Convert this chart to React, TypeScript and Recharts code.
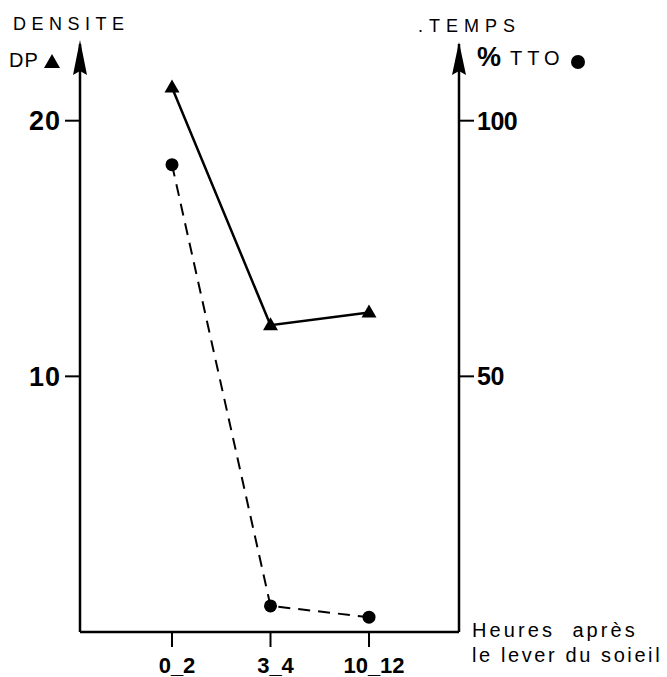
import React from "react";
import { LineChart, Line, XAxis, YAxis } from "recharts";

const categories = ["0_2", "3_4", "10_12"];
const densite = [21.3, 12.0, 12.5];
const tempsTTO = [91.4, 5.1, 2.9];
const leftTicks = [10, 20];
const rightTicks = [50, 100];

const data = categories.map((c, i) => ({ cat: c, dp: densite[i], tto: tempsTTO[i] }));

const FONT = "'Liberation Sans', Arial, Helvetica, sans-serif";

const Triangle = (props: any) => {
  const { cx, cy, index } = props;
  if (cx == null || cy == null) return null;
  return (
    <polygon
      key={`tri-${index}`}
      points={`${cx},${cy - 8} ${cx - 7.5},${cy + 5} ${cx + 7.5},${cy + 5}`}
      fill="#000"
    />
  );
};

const Circle = (props: any) => {
  const { cx, cy, index } = props;
  if (cx == null || cy == null) return null;
  return <circle key={`cir-${index}`} cx={cx} cy={cy} r={6.5} fill="#000" />;
};

const LeftTick = (props: any) => {
  const { x, y, payload } = props;
  return (
    <text x={x} y={y} dy="0.36em" textAnchor="end" fontFamily={FONT} fontWeight="bold" fontSize={27} letterSpacing={1} fill="#000">
      {payload.value}
    </text>
  );
};

const RightTick = (props: any) => {
  const { x, y, payload } = props;
  return (
    <text x={x} y={y} dy="0.36em" textAnchor="start" fontFamily={FONT} fontWeight="bold" fontSize={25} fill="#000" letterSpacing={-0.5}>
      {payload.value}
    </text>
  );
};

const BottomTick = (props: any) => {
  const { x, payload } = props;
  return (
    <text x={x + 5} y={673} textAnchor="middle" fontFamily={FONT} fontWeight="bold" fontSize={22} fill="#000">
      {payload.value}
    </text>
  );
};

const LeftLabel = (props: any) => {
  const vb = props.viewBox || {};
  const ax = (vb.x ?? 0) + (vb.width ?? 80);
  const top = vb.y ?? 44;
  return (
    <g>
      <polygon points={`${ax},${top - 4} ${ax - 7},${top + 31} ${ax},${top + 27} ${ax + 7},${top + 31}`} fill="#000" />
      <text x={13} y={30} fontFamily={FONT} fontSize={18} letterSpacing={5.5} fill="#000">DENSITE</text>
      <text x={9} y={67} fontFamily={FONT} fontSize={20} letterSpacing={1} fill="#000">DP</text>
      <polygon points="52,54 44,68 60,68" fill="#000" />
    </g>
  );
};

const RightLabel = (props: any) => {
  const vb = props.viewBox || {};
  const ax = vb.x ?? 459;
  const top = vb.y ?? 44;
  return (
    <g>
      <polygon points={`${ax},${top - 2} ${ax - 7},${top + 31} ${ax},${top + 27} ${ax + 7},${top + 31}`} fill="#000" />
      <text x={418} y={32} fontFamily={FONT} fontSize={18} letterSpacing={6} fill="#000">.TEMPS</text>
      <text x={477} y={66} fontFamily={FONT} fontSize={27} fontWeight="bold" fill="#000">%</text>
      <text x={510} y={65} fontFamily={FONT} fontSize={20} letterSpacing={5} fill="#000">TTO</text>
      <circle cx={578} cy={62} r={7} fill="#000" />
    </g>
  );
};

const BottomLabel = () => (
  <g>
    <text x={472} y={637} fontFamily={FONT} fontSize={20} letterSpacing={3.1} fill="#000" style={{ whiteSpace: "pre" }}>
      Heures  après
    </text>
    <text x={472} y={662} fontFamily={FONT} fontSize={20} letterSpacing={2.6} fill="#000">
      le lever du soieil
    </text>
  </g>
);

export default function App() {
  return (
    <div style={{ position: "absolute", left: 0, top: 0, width: 667, height: 677, background: "#fff" }}>
      <LineChart width={667} height={677} data={data} margin={{ top: 44, right: 0, bottom: 0, left: 0 }}>
        <XAxis
          dataKey="cat"
          height={45}
          padding={{ left: 92, right: 90 }}
          axisLine={{ stroke: "#000", strokeWidth: 2.5 }}
          tickLine={{ stroke: "#000", strokeWidth: 2 }}
          tickSize={15}
          tick={<BottomTick />}
          label={<BottomLabel />}
        />
        <YAxis
          yAxisId="left"
          orientation="left"
          width={80}
          domain={[0, 23]}
          ticks={leftTicks}
          allowDataOverflow
          axisLine={{ stroke: "#000", strokeWidth: 2.5 }}
          tickLine={{ stroke: "#000", strokeWidth: 2 }}
          tickSize={15}
          tickMargin={4}
          tick={<LeftTick />}
          label={<LeftLabel />}
        />
        <YAxis
          yAxisId="right"
          orientation="right"
          width={208}
          domain={[0, 115]}
          ticks={rightTicks}
          allowDataOverflow
          axisLine={{ stroke: "#000", strokeWidth: 2.5 }}
          tickLine={{ stroke: "#000", strokeWidth: 2 }}
          tickSize={15}
          tickMargin={3}
          tick={<RightTick />}
          label={<RightLabel />}
        />
        <Line
          yAxisId="left"
          dataKey="dp"
          type="linear"
          stroke="#000"
          strokeWidth={2.5}
          dot={<Triangle />}
          activeDot={false}
          isAnimationActive={false}
        />
        <Line
          yAxisId="right"
          dataKey="tto"
          type="linear"
          stroke="#000"
          strokeWidth={2}
          strokeDasharray="12 8"
          dot={<Circle />}
          activeDot={false}
          isAnimationActive={false}
        />
      </LineChart>
    </div>
  );
}
